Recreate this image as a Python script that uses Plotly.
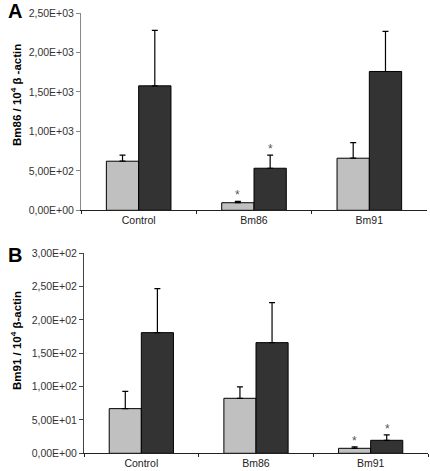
import plotly.graph_objects as go

categories = ["Control", "Bm86", "Bm91"]

# Panel A: Bm86 / 10^4 beta-actin
a_light = [622, 96, 660]
a_light_err = [76, 18, 198]
a_dark = [1577, 533, 1759]
a_dark_err = [702, 165, 507]

# Panel B: Bm91 / 10^4 beta-actin
b_light = [67, 82.5, 7.5]
b_light_err = [26, 17, 2]
b_dark = [181, 166, 19.5]
b_dark_err = [66, 60, 8]

a_ticks = [0, 500, 1000, 1500, 2000, 2500]
a_ticktext = ["0,00E+00", "5,00E+02", "1,00E+03", "1,50E+03", "2,00E+03", "2,50E+03"]
b_ticks = [0, 50, 100, 150, 200, 250, 300]
b_ticktext = ["0,00E+00", "5,00E+01", "1,00E+02", "1,50E+02", "2,00E+02", "2,50E+02", "3,00E+02"]

LIGHT = "#c0c0c0"
DARK = "#333333"
FONT = "Liberation Sans, Arial, sans-serif"

fig = go.Figure()

def add_bars(vals, errs, color, xa, ya):
    fig.add_trace(go.Bar(
        x=categories, y=vals, xaxis=xa, yaxis=ya,
        marker=dict(color=color, line=dict(color="#000000", width=1)),
        error_y=dict(type="data", array=errs, arrayminus=[0] * len(errs), symmetric=False,
                     color="#000000", thickness=1.2, width=3),
        showlegend=False, hoverinfo="skip"))

add_bars(a_light, a_light_err, LIGHT, "x", "y")
add_bars(a_dark, a_dark_err, DARK, "x", "y")
add_bars(b_light, b_light_err, LIGHT, "x2", "y2")
add_bars(b_dark, b_dark_err, DARK, "x2", "y2")

xcommon = dict(type="category", showline=True, linecolor="#222222", linewidth=1,
               ticks="outside", ticklen=3, tickcolor="#222222", tickson="boundaries",
               tickfont=dict(family=FONT, size=10.5, color="#222222"), showgrid=False,
               zeroline=False, automargin=False)
ycommon = dict(showline=True, linewidth=1, ticks="outside", ticklen=4,
               tickfont=dict(family=FONT, size=10.5, color="#333333"), showgrid=False,
               zeroline=False, automargin=False)

fig.update_layout(
    width=430, height=471,
    margin=dict(l=0, r=0, t=0, b=0, autoexpand=False),
    paper_bgcolor="white", plot_bgcolor="white",
    barmode="group", bargap=0.44, bargroupgap=0,
    xaxis=dict(domain=[81 / 430, 427 / 430], anchor="y", **xcommon),
    yaxis=dict(domain=[1 - 210.3 / 471, 1 - 13 / 471], anchor="x", range=[0, 2500],
               tickvals=a_ticks, ticktext=a_ticktext, linecolor="#888888", tickcolor="#888888",
               **ycommon),
    xaxis2=dict(domain=[84 / 430, 428 / 430], anchor="y2", **xcommon),
    yaxis2=dict(domain=[1 - 453.3 / 471, 1 - 253.3 / 471], anchor="x2", range=[0, 300],
                tickvals=b_ticks, ticktext=b_ticktext, linecolor="#444444", tickcolor="#444444",
                **ycommon),
)

ann = []
C = dict(xanchor="center", yanchor="middle", showarrow=False, xref="paper", yref="paper")
# Panel letters
ann.append(dict(text="<b>A</b>", x=15 / 430, y=1 - 11 / 471,
                font=dict(family=FONT, size=20, color="#000000"), **C))
ann.append(dict(text="<b>B</b>", x=15 / 430, y=1 - 255 / 471,
                font=dict(family=FONT, size=20, color="#000000"), **C))
# Y titles
ann.append(dict(text="<b>Bm86 / 10<sup>4</sup> β -actin</b>",
                x=16 / 430, y=1 - 95 / 471, textangle=-90,
                font=dict(family=FONT, size=11.5, color="#000000"), **C))
ann.append(dict(text="<b>Bm91 / 10<sup>4</sup> β-actin</b>",
                x=16 / 430, y=1 - 341 / 471, textangle=-90,
                font=dict(family=FONT, size=11.5, color="#000000"), **C))

# Significance asterisks
def star(xa, ya, cat, val, err, shift):
    ann.append(dict(text="*", xref=xa, yref=ya, x=cat, y=val + err, xshift=shift,
                    yanchor="bottom", yshift=-3, showarrow=False,
                    font=dict(family=FONT, size=12, color="#555555")))

star("x", "y", "Bm86", a_light[1], a_light_err[1], -16.5)
star("x", "y", "Bm86", a_dark[1], a_dark_err[1], 16.5)
star("x2", "y2", "Bm91", b_light[2], b_light_err[2], -16.5)
star("x2", "y2", "Bm91", b_dark[2], b_dark_err[2], 16.5)

fig.update_layout(annotations=ann)
fig.write_html("out.html", config={"displayModeBar": False},
               post_script="document.body.style.margin='0';document.body.style.overflow='hidden';")
